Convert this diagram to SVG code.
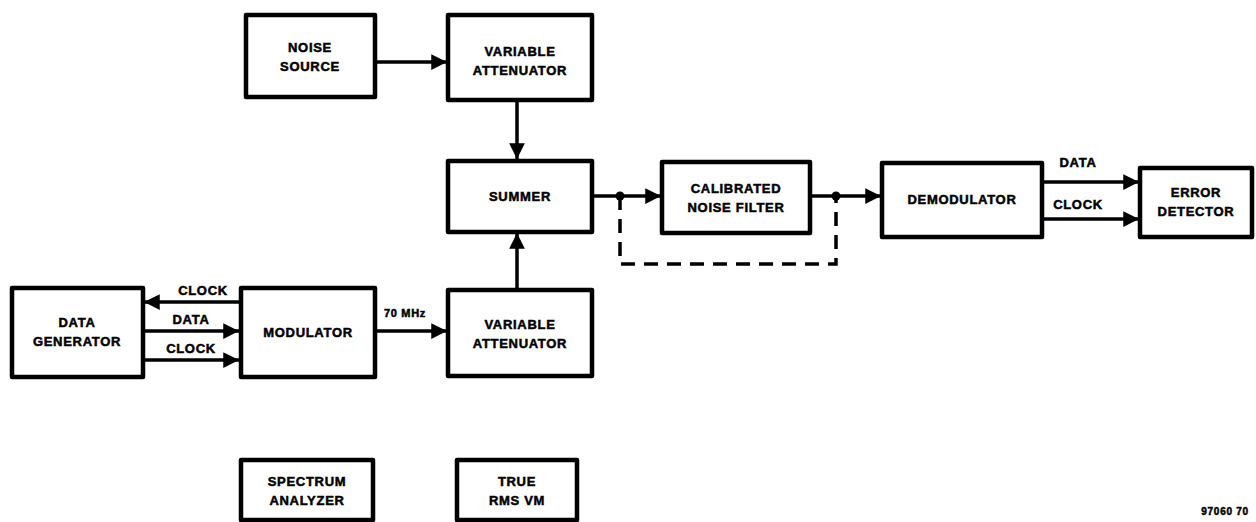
<svg xmlns="http://www.w3.org/2000/svg" width="1256" height="522" viewBox="0 0 1256 522">
<defs>
<marker id="ah" viewBox="0 0 10 10" refX="10" refY="5" markerWidth="4.5" markerHeight="4.5" orient="auto" markerUnits="strokeWidth">
<path d="M0,0 L10,5 L0,10 z" fill="#000"/>
</marker>
</defs>
<style>
.box{fill:#fff;stroke:#000;stroke-width:4.5;stroke-linejoin:round}
.t{font-family:"Liberation Sans",Arial,sans-serif;font-weight:bold;font-size:13px;text-anchor:middle;fill:#000;stroke:#000;stroke-width:0.5;letter-spacing:0.7px}
.ln{fill:none;stroke:#000;stroke-width:3.5}
.ar{fill:none;stroke:#000;stroke-width:3.5;marker-end:url(#ah)}
.dash{fill:none;stroke:#000;stroke-width:3.5;stroke-dasharray:14,9}
</style>
<rect width="1256" height="522" fill="#fff"/>
<g id="connectors">
<line class="ar" x1="375" y1="62" x2="447" y2="62"/>
<line class="ar" x1="517" y1="100" x2="517" y2="159"/>
<line class="ar" x1="517" y1="290" x2="517" y2="233"/>
<line class="ln" x1="592" y1="196" x2="622" y2="196"/>
<line class="ar" x1="620" y1="196" x2="661" y2="196"/>
<line class="ln" x1="810" y1="196" x2="836" y2="196"/>
<line class="ar" x1="834" y1="196" x2="881" y2="196"/>
<circle cx="620" cy="196" r="4.5" fill="#000"/>
<circle cx="836" cy="196" r="4.5" fill="#000"/>
<path class="dash" d="M620,196 L620,264 L836,264 L836,196"/>
<line class="ar" x1="1042" y1="182" x2="1139" y2="182"/>
<line class="ar" x1="1042" y1="219" x2="1139" y2="219"/>
<text class="t" x="1078" y="167">DATA</text>
<text class="t" x="1078" y="209">CLOCK</text>
<line class="ar" x1="240" y1="302" x2="144" y2="302"/>
<line class="ar" x1="143" y1="331" x2="239" y2="331"/>
<line class="ar" x1="143" y1="360" x2="239" y2="360"/>
<text class="t" x="203" y="295">CLOCK</text>
<text class="t" x="191" y="324">DATA</text>
<text class="t" x="191" y="353">CLOCK</text>
<line class="ar" x1="375" y1="331" x2="447" y2="331"/>
<text class="t" x="405" y="317" style="font-size:11px">70 MHz</text>
</g>
<g id="noise-source"><rect class="box" x="246" y="15" width="129" height="82"/>
<text class="t" x="310" y="52">NOISE</text><text class="t" x="310" y="71">SOURCE</text></g>
<g id="var-att-top"><rect class="box" x="448" y="15" width="144" height="85"/>
<text class="t" x="520" y="56">VARIABLE</text><text class="t" x="520" y="75">ATTENUATOR</text></g>
<g id="summer"><rect class="box" x="448" y="161" width="144" height="71"/>
<text class="t" x="520" y="201">SUMMER</text></g>
<g id="var-att-bottom"><rect class="box" x="448" y="290" width="144" height="86"/>
<text class="t" x="520" y="329">VARIABLE</text><text class="t" x="520" y="348">ATTENUATOR</text></g>
<g id="data-generator"><rect class="box" x="12" y="288" width="131" height="89"/>
<text class="t" x="77" y="327">DATA</text><text class="t" x="77" y="346">GENERATOR</text></g>
<g id="modulator"><rect class="box" x="241" y="288" width="134" height="89"/>
<text class="t" x="308" y="337">MODULATOR</text></g>
<g id="noise-filter"><rect class="box" x="662" y="162" width="148" height="71"/>
<text class="t" x="736" y="193">CALIBRATED</text><text class="t" x="736" y="212">NOISE FILTER</text></g>
<g id="demodulator"><rect class="box" x="882" y="163" width="160" height="74"/>
<text class="t" x="962" y="204">DEMODULATOR</text></g>
<g id="error-detector"><rect class="box" x="1140" y="168" width="112" height="69"/>
<text class="t" x="1196" y="197">ERROR</text><text class="t" x="1196" y="216">DETECTOR</text></g>
<g id="spectrum-analyzer"><rect class="box" x="241" y="460" width="132" height="60"/>
<text class="t" x="307" y="486">SPECTRUM</text><text class="t" x="307" y="505">ANALYZER</text></g>
<g id="true-rms-vm"><rect class="box" x="457" y="460" width="120" height="60"/>
<text class="t" x="517" y="486">TRUE</text><text class="t" x="517" y="505">RMS VM</text></g>
<text class="t" x="1225" y="515" style="font-size:10px">97060 70</text>
</svg>
